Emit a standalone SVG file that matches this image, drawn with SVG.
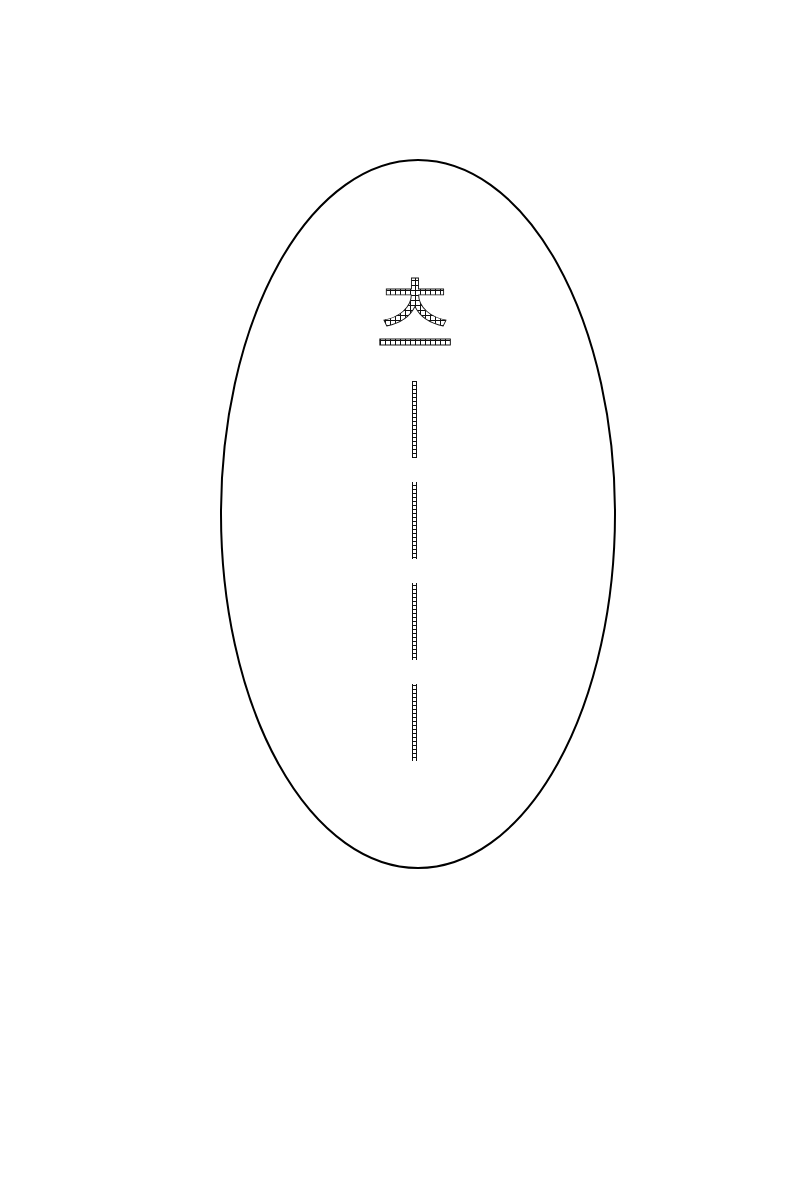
<svg xmlns="http://www.w3.org/2000/svg" width="800" height="1184" viewBox="0 0 800 1184">
<style>
.outline{fill:none;stroke:#000;stroke-width:2}
.glyph{font-family:"Noto Sans CJK KR","Noto Sans CJK SC",sans-serif;font-size:86px;fill:url(#sq);stroke:#111;stroke-width:0.9}
.dash{fill:url(#sq2)}
</style>
<defs>
<pattern id="sq" patternUnits="userSpaceOnUse" x="0" y="0" width="5" height="5">
<rect x="0" y="0" width="5" height="5" fill="#111"/>
<rect x="1" y="1" width="4" height="4" fill="#fff"/>
</pattern>
<pattern id="sq2" patternUnits="userSpaceOnUse" x="412" y="381" width="5" height="4">
<rect x="0" y="0" width="5" height="4" fill="#111"/>
<rect x="1" y="1" width="3" height="3" fill="#fff"/>
</pattern>
</defs>
<rect width="800" height="1184" fill="#fff"/>
<g id="frame">
<ellipse class="outline" cx="418" cy="514" rx="197" ry="354"/>
</g>
<g id="letter">
<text class="glyph" x="415" y="348" text-anchor="middle">츠</text>
</g>
<g id="guide">
<rect class="dash" x="412" y="381" width="5" height="77"/>
<rect class="dash" x="412" y="482" width="5" height="77"/>
<rect class="dash" x="412" y="583" width="5" height="77"/>
<rect class="dash" x="412" y="684" width="5" height="77"/>
</g>
</svg>
